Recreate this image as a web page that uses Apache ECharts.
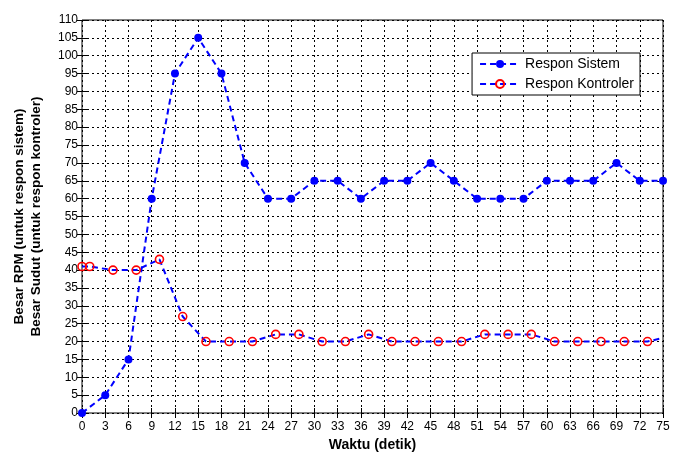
<!DOCTYPE html>
<html>
<head>
<meta charset="utf-8">
<script src="https://cdn.jsdelivr.net/npm/echarts@6/dist/echarts.min.js"></script>
<style>
html, body { margin: 0; padding: 0; background: #fff; }
#chart { width: 686px; height: 452px; }
</style>
</head>
<body>
<div id="chart"></div>
<script>
// data
var sistemX = [0, 3, 6, 9, 12, 15, 18, 21, 24, 27, 30, 33, 36, 39, 42, 45, 48, 51, 54, 57, 60, 63, 66, 69, 72, 75];
var sistemY = [0, 5, 15, 60, 95, 105, 95, 70, 60, 60, 65, 65, 60, 65, 65, 70, 65, 60, 60, 60, 65, 65, 65, 70, 65, 65];

var kontrolX = [0, 1, 4, 7, 10, 13, 16, 19, 22, 25, 28, 31, 34, 37, 40, 43, 46, 49, 52, 55, 58, 61, 64, 67, 70, 73, 75];
var kontrolY = [41, 41, 40, 40, 43, 27, 20, 20, 20, 22, 22, 20, 20, 22, 20, 20, 20, 20, 22, 22, 22, 20, 20, 20, 20, 20, 21];

var font = 'Liberation Sans, Arial, sans-serif';

function pairs(xs, ys) {
    var out = [];
    for (var i = 0; i < xs.length; i++) {
        out.push([xs[i], ys[i]]);
    }
    return out;
}

var kontrolData = pairs(kontrolX, kontrolY);
// last point is where the line leaves the box, no marker there
kontrolData[kontrolData.length - 1] = { value: kontrolData[kontrolData.length - 1], symbol: 'none' };

var gridLine = { show: true, lineStyle: { color: '#000', type: [2, 3], width: 1 } };

var myChart = echarts.init(document.getElementById('chart'));

var option = {
    animation: false,
    grid: {
        left: 82, right: 23, top: 20, bottom: 39,
        outerBoundsMode: 'none',
        containLabel: false,
        show: true, borderColor: '#000', borderWidth: 1, backgroundColor: '#fff'
    },
    legend: {
        right: 46, top: 53,
        orient: 'vertical',
        backgroundColor: '#fff',
        borderColor: '#000',
        borderWidth: 1,
        borderRadius: 0,
        padding: [4, 6, 4, 7],
        itemGap: 6,
        itemWidth: 40,
        itemHeight: 10,
        textStyle: { fontFamily: font, fontSize: 14, color: '#000' },
        data: ['Respon Sistem', 'Respon Kontroler']
    },
    xAxis: [{
        type: 'value', min: 0, max: 75, interval: 3,
        name: 'Waktu (detik)', nameLocation: 'middle', nameGap: 24,
        nameTextStyle: { fontFamily: font, fontSize: 14, fontWeight: 'bold', color: '#000' },
        axisLine: { show: false },
        axisTick: { show: true, inside: true, length: 5, lineStyle: { color: '#000' } },
        axisLabel: { fontFamily: font, fontSize: 12, color: '#000', margin: 8 },
        splitLine: gridLine
    }, {
        type: 'value', min: 0, max: 75, interval: 3, position: 'top',
        axisLine: { show: false },
        axisTick: { show: true, inside: true, length: 5, lineStyle: { color: '#000' } },
        axisLabel: { show: false },
        splitLine: { show: false }
    }],
    yAxis: [{
        type: 'value', min: 0, max: 110, interval: 5,
        name: 'Besar RPM (untuk respon sistem)\nBesar Sudut (untuk respon kontroler)',
        nameLocation: 'middle', nameGap: 37,
        nameTextStyle: {
            fontFamily: font, fontSize: 13.5, fontWeight: 'bold', color: '#000',
            lineHeight: 17
        },
        axisLine: { show: false },
        axisTick: { show: true, inside: true, length: 5, lineStyle: { color: '#000' } },
        axisLabel: { fontFamily: font, fontSize: 12, color: '#000', margin: 4 },
        splitLine: gridLine
    }, {
        type: 'value', min: 0, max: 110, interval: 5, position: 'right',
        axisLine: { show: false },
        axisTick: { show: true, inside: true, length: 5, lineStyle: { color: '#000' } },
        axisLabel: { show: false },
        splitLine: { show: false }
    }],
    series: [{
        name: 'Respon Sistem',
        type: 'line',
        data: pairs(sistemX, sistemY),
        symbol: 'circle',
        symbolSize: 8,
        itemStyle: { color: '#0000ff' },
        lineStyle: { color: '#0000ff', width: 2, type: [6, 4] },
        z: 3
    }, {
        name: 'Respon Kontroler',
        type: 'line',
        data: kontrolData,
        symbol: 'circle',
        symbolSize: 8,
        itemStyle: { color: 'rgba(255,255,255,0)', borderColor: '#ff0000', borderWidth: 1.6 },
        lineStyle: { color: '#0000ff', width: 2, type: [6, 4] },
        z: 4
    }]
};

myChart.setOption(option);
</script>
</body>
</html>
